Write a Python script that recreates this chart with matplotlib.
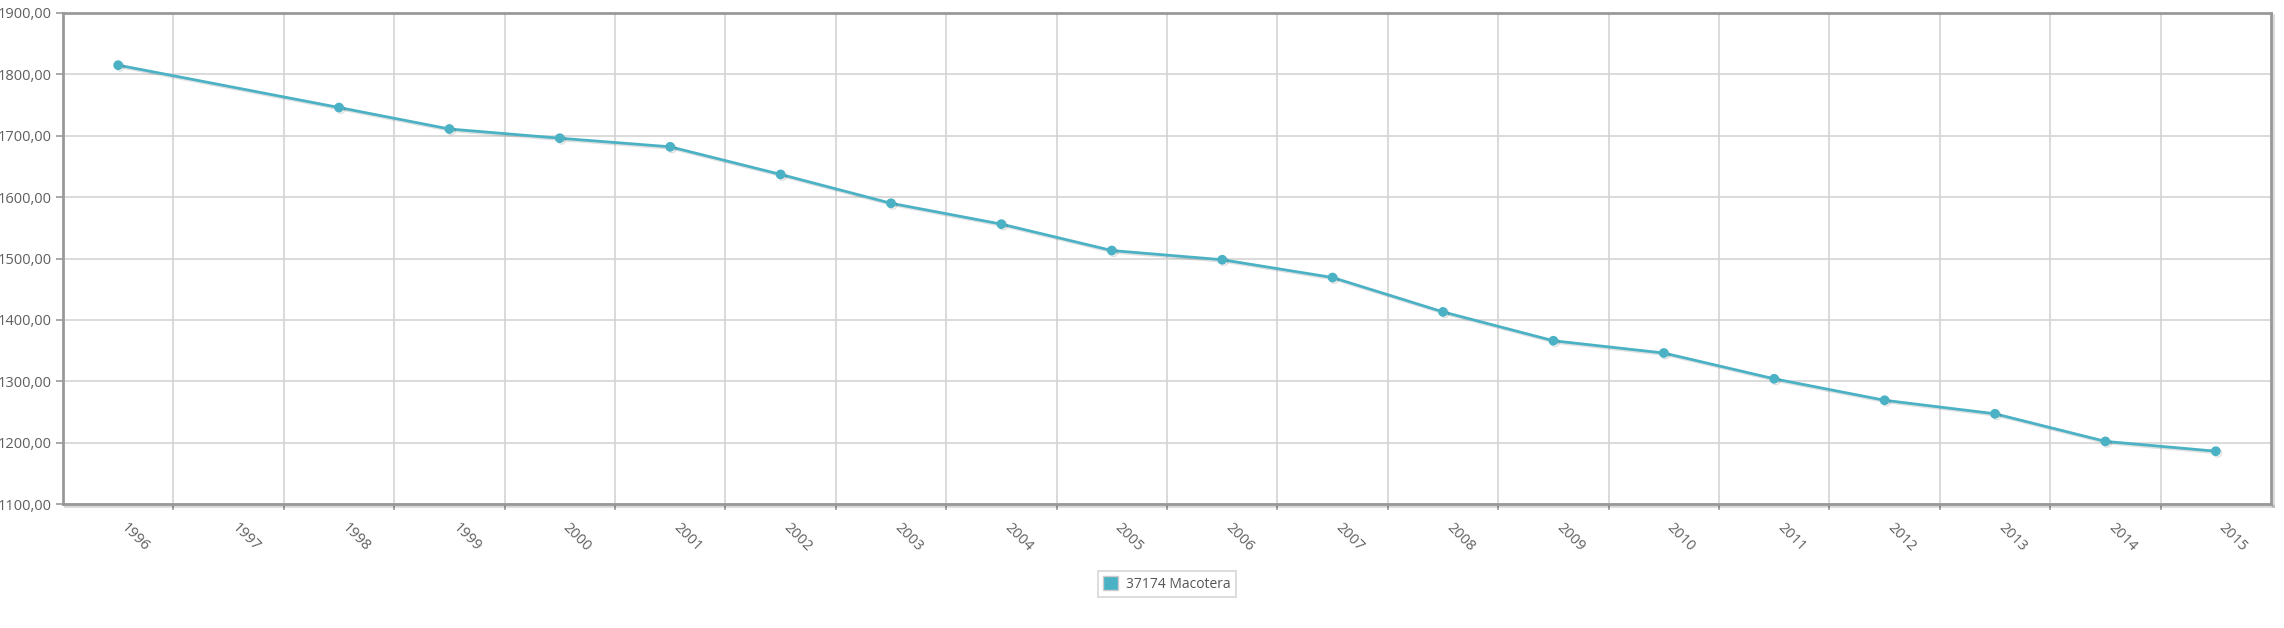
import numpy as np
import matplotlib
matplotlib.use("Agg")
import matplotlib.pyplot as plt
import matplotlib.patheffects as pe
from matplotlib.patches import Rectangle
from matplotlib.ticker import FixedLocator, FuncFormatter

# ── Data ──
years = ["1996", "1997", "1998", "1999", "2000", "2001", "2002", "2003", "2004", "2005",
         "2006", "2007", "2008", "2009", "2010", "2011", "2012", "2013", "2014", "2015"]
population = [1815, None, 1746, 1711, 1696, 1682, 1637, 1590, 1556, 1513,
              1498, 1469, 1413, 1366, 1346, 1304, 1269, 1247, 1202, 1186]
series_label = "37174 Macotera"

LINE = "#4bb2c5"
TXT = "#5f5f5f"
plt.rcParams["font.family"] = ["Open Sans", "DejaVu Sans"]

# 1997 has no value, the line joins 1996 to 1998 directly
idx = [i for i, v in enumerate(population) if v is not None]
vals = [population[i] for i in idx]

fig = plt.figure(figsize=(22.84, 6.28), dpi=100)
ax = fig.add_axes([63 / 2284, 1 - 504 / 628, (2271 - 63) / 2284, (504 - 13) / 628])

ax.plot(idx, vals, color=LINE, linewidth=2, marker="o", markersize=6, zorder=3,
        path_effects=[pe.SimpleLineShadow(offset=(1.2, -1.2), alpha=0.12,
                                          shadow_color="k"), pe.Normal()])

n = len(years)
ax.set_xlim(-0.5, n - 0.5)
ax.set_ylim(1100, 1900)

# category labels at centres, ticks + grid at boundaries
ax.set_xticks(range(n))
ax.set_xticklabels(years, rotation=-45, ha="left", va="top", fontsize=10.5, color=TXT)
ax.xaxis.set_minor_locator(FixedLocator(np.arange(0.5, n - 0.5, 1)))
ax.tick_params(axis="x", which="major", length=0, pad=12)
ax.tick_params(axis="x", which="minor", length=4, width=1.2, color="#999999")
ax.grid(True, axis="x", which="minor", color="#d4d4d4", linewidth=1.2)

ax.set_yticks(np.arange(1100, 1901, 100))
ax.yaxis.set_major_formatter(FuncFormatter(lambda v, p: f"{v:.2f}".replace(".", ",")))
ax.tick_params(axis="y", length=5, width=1.2, color="#999999", labelsize=10.5,
               labelcolor=TXT, pad=3)
ax.grid(True, axis="y", which="major", color="#d4d4d4", linewidth=1.2)
ax.set_axisbelow(True)

for s in ax.spines.values():
    s.set_color("#999999")
    s.set_linewidth(2)
for side in ("right", "bottom"):
    ax.spines[side].set_path_effects([pe.SimpleLineShadow(offset=(1.5, -1.5), alpha=0.15,
                                                          shadow_color="k"), pe.Normal()])

# legend with a square swatch, centred under the plot
swatch = Rectangle((0, 0), 1, 1, facecolor=LINE, edgecolor="#cccccc", linewidth=1)
leg = fig.legend(handles=[swatch], labels=[series_label], loc="center",
                 bbox_to_anchor=((63 + 2271) / 2 / 2284, 1 - 584 / 628),
                 frameon=True, fancybox=False, fontsize=10, handlelength=1.1,
                 handleheight=1.1, handletextpad=0.6, borderpad=0.35)
leg.get_frame().set_edgecolor("#cccccc")
leg.get_frame().set_linewidth(1.2)
for t in leg.get_texts():
    t.set_color("#555555")

fig.savefig("out.png", dpi=100)
plt.close(fig)
